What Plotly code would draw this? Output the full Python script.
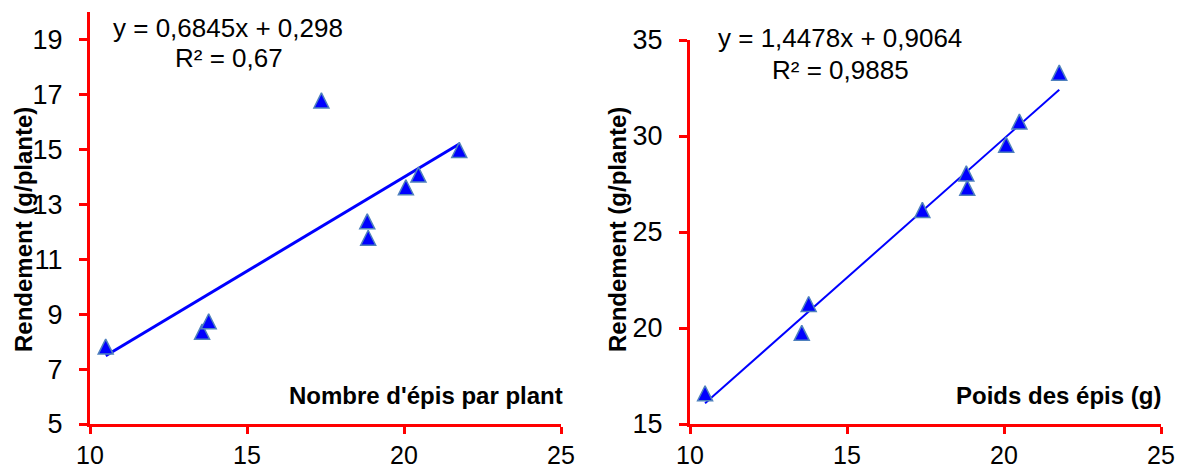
import plotly.graph_objects as go

# --- data -------------------------------------------------------------
# Left panel: number of ears per plant vs. yield
epis_nombre = [10.5, 13.57, 13.78, 17.37, 18.83, 18.86, 20.06, 20.46, 21.76]
rendement_a = [7.82, 8.36, 8.74, 16.78, 12.38, 11.78, 13.62, 14.08, 14.98]
pente_a, origine_a, r2_a = 0.6845, 0.298, 0.67
eq_a = ["y = 0,6845x + 0,298", "R² = 0,67"]

# Right panel: ear weight vs. yield
epis_poids = [10.48, 13.56, 13.78, 17.4, 18.8, 18.83, 20.07, 20.49, 21.76]
rendement_b = [16.6, 19.75, 21.25, 26.15, 28.05, 27.3, 29.55, 30.75, 33.3]
pente_b, origine_b, r2_b = 1.4478, 0.9064, 0.9885
eq_b = ["y = 1,4478x + 0,9064", "R² = 0,9885"]

x_ticks = [10, 15, 20, 25]
y_ticks_a = [5, 7, 9, 11, 13, 15, 17, 19]
y_ticks_b = [15, 20, 25, 30, 35]

# --- layout helpers ----------------------------------------------------
W, H = 1191, 471
FONT = "Liberation Sans, Arial, sans-serif"
RED = "#FF0000"
BLUE = "#0000FF"


def px(x):
    return x / W


def py(y):
    return 1 - y / H


def trend(xs, slope, intercept):
    x0, x1 = min(xs), max(xs)
    return [x0, x1], [slope * x0 + intercept, slope * x1 + intercept]


fig = go.Figure()

marker = dict(symbol="arrow-down", angle=180, standoff=7.5, size=15,
              color=BLUE, line=dict(color="#4F81BD", width=1.5))

# left panel
tx, ty = trend(epis_nombre, pente_a, origine_a)
fig.add_trace(go.Scatter(x=tx, y=ty, mode="lines", line=dict(color=BLUE, width=3),
                         xaxis="x", yaxis="y", hoverinfo="skip"))
fig.add_trace(go.Scatter(x=epis_nombre, y=rendement_a, mode="markers", marker=marker,
                         xaxis="x", yaxis="y"))

# right panel
tx, ty = trend(epis_poids, pente_b, origine_b)
fig.add_trace(go.Scatter(x=tx, y=ty, mode="lines", line=dict(color=BLUE, width=2),
                         xaxis="x2", yaxis="y2", hoverinfo="skip"))
fig.add_trace(go.Scatter(x=epis_poids, y=rendement_b, mode="markers", marker=marker,
                         xaxis="x2", yaxis="y2"))

axis_common = dict(
    showline=True, linecolor=RED, linewidth=3,
    ticks="outside", tickwidth=3, tickcolor=RED,
    showgrid=False, zeroline=False, automargin=False,
)
x_style = dict(ticklen=7, ticklabelstandoff=0,
               tickfont=dict(family=FONT, size=25, color="#000000"), **axis_common)
y_style = dict(ticklen=8, ticklabelstandoff=11,
               tickfont=dict(family=FONT, size=27, color="#000000"), **axis_common)

fig.update_layout(
    width=W, height=H,
    margin=dict(l=0, r=0, t=0, b=0),
    paper_bgcolor="white", plot_bgcolor="white",
    showlegend=False,
    xaxis=dict(domain=[px(90), px(561)], range=[10, 25], tickvals=x_ticks,
               anchor="y", **x_style),
    yaxis=dict(domain=[py(424), py(12)], range=[5, 20], tickvals=y_ticks_a,
               anchor="x", **y_style),
    xaxis2=dict(domain=[px(690), px(1161)], range=[10, 25], tickvals=x_ticks,
                anchor="y2", **x_style),
    yaxis2=dict(domain=[py(424), py(40)], range=[15, 35], tickvals=y_ticks_b,
                anchor="x2", **y_style),
)

ann = []


def label(text, x, y, size, bold=False, xanchor="center", angle=0):
    ann.append(dict(
        text=f"<b>{text}</b>" if bold else text,
        x=px(x), y=py(y), xref="paper", yref="paper",
        xanchor=xanchor, yanchor="middle", showarrow=False, textangle=angle,
        font=dict(family=FONT, size=size, color="#000000"),
    ))


# regression equations
label(eq_a[0], 228, 28, 26)
label(eq_a[1], 229, 58, 26)
label(eq_b[0], 840, 38, 26)
label(eq_b[1], 840, 70, 26)

# axis titles
label("Nombre d'épis par plant", 565, 395, 24, bold=True, xanchor="right")
label("Poids des épis (g)", 1163, 395, 24, bold=True, xanchor="right")
label("Rendement (g/plante)", 23, 230, 24, bold=True, angle=-90)
label("Rendement (g/plante)", 617, 230, 24, bold=True, angle=-90)

fig.update_layout(annotations=ann)

fig.write_html("out.html")
